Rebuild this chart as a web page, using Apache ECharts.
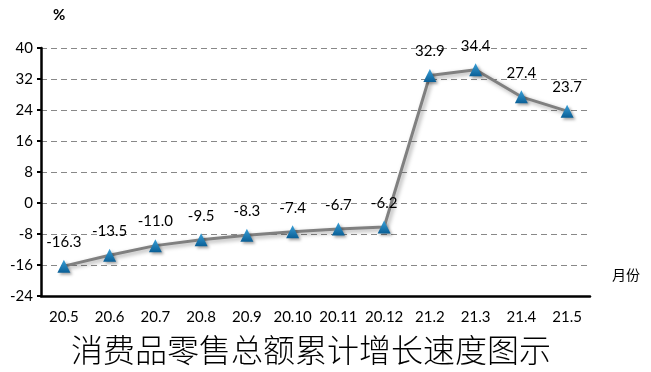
<!DOCTYPE html>
<html><head><meta charset="utf-8">
<script src="https://cdn.jsdelivr.net/npm/echarts@6/dist/echarts.min.js"></script>
<style>html,body{margin:0;padding:0;background:#fff}#c{width:651px;height:372px}</style>
</head><body><div id="c"></div>
<script>
var categories = ['20.5','20.6','20.7','20.8','20.9','20.10','20.11','20.12','21.2','21.3','21.4','21.5'];
var values = [-16.3,-13.5,-11.0,-9.5,-8.3,-7.4,-6.7,-6.2,32.9,34.4,27.4,23.7];
var yTicks = {min:-24, max:40, interval:8};
var titleText = '消费品零售总额累计增长速度图示';
var yUnit = '%';
var xUnit = '月份';

var chart = echarts.init(document.getElementById('c'), null, {renderer:'canvas'});
var font = 'Lato,"Liberation Sans",sans-serif';
chart.setOption({
  animation:false,
  grid:{left:41,right:61,top:48,bottom:76},
  title:{text:titleText,left:66,top:329,textStyle:{fontFamily:'"Noto Sans CJK SC"',fontSize:32,fontWeight:300,color:'#000'}},
  graphic:[
    {type:'text',left:53,top:8,style:{text:yUnit,font:'bold 15px '+font,fill:'#000'}},
    {type:'text',left:612,top:268,style:{text:xUnit,font:'14px "Noto Sans CJK SC"',fill:'#000'}}
  ],
  xAxis:{type:'category',data:categories,boundaryGap:true,
    axisLine:{onZero:false,lineStyle:{color:'#000',width:2.5}},axisTick:{show:false},
    axisLabel:{interval:0,color:'#000',fontSize:15,fontFamily:font,margin:14}},
  yAxis:{type:'value',min:yTicks.min,max:yTicks.max,interval:yTicks.interval,
    axisLine:{show:true,lineStyle:{color:'#000',width:2.5}},
    axisTick:{show:true,length:4,lineStyle:{color:'#000',width:2}},
    axisLabel:{color:'#000',fontSize:15,fontFamily:font,margin:8},
    splitLine:{show:true,lineStyle:{color:'#888',type:[6,4],width:1}}},
  series:[{type:'line',data:values,symbol:'triangle',symbolSize:13,
    lineStyle:{color:'#808080',width:3,shadowColor:'rgba(0,0,0,0.35)',shadowBlur:4,shadowOffsetX:2,shadowOffsetY:2},
    itemStyle:{color:new echarts.graphic.LinearGradient(0,0,0,1,[{offset:0,color:'#3aa0d8'},{offset:1,color:'#0a5f96'}]),borderWidth:0,
      shadowColor:'rgba(0,0,0,0.35)',shadowBlur:3,shadowOffsetX:2,shadowOffsetY:2},
    label:{show:true,position:'top',distance:10,color:'#000',fontSize:15,fontFamily:font,
      formatter:function(p){return p.value.toFixed(1);}}
  }]
});
</script></body></html>
